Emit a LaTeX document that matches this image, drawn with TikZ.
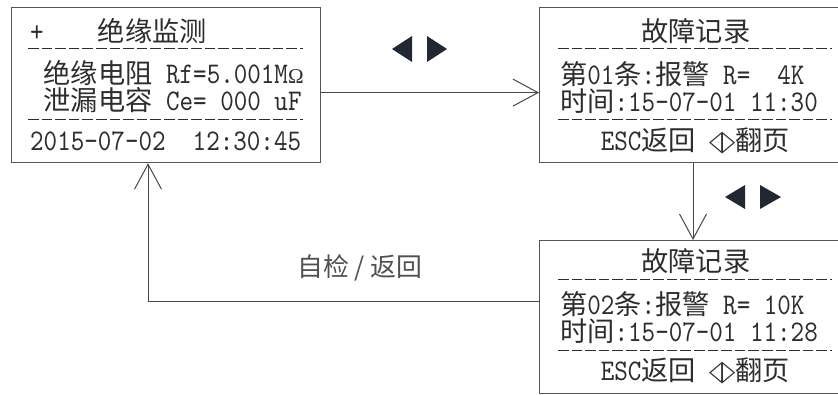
\documentclass[tikz,border=0pt]{standalone}
\usepackage{fontspec}
\newfontfamily\lcd{lmmono10-regular.otf}[FakeStretch=0.86]
\newfontfamily\cjk{Noto Sans CJK SC}[Scale=0.907]
\newfontfamily\sym{DejaVu Sans}[Scale=0.95, FakeStretch=0.6]
\newfontfamily\omg{Liberation Serif}[Scale=0.7]
\usetikzlibrary{arrows.meta}
\definecolor{framegray}{RGB}{85, 85, 85}
\definecolor{lcdtext}{RGB}{45, 45, 45}
\definecolor{linegray}{RGB}{70, 70, 70}
\definecolor{keydark}{RGB}{34, 40, 49}
\definecolor{notegray}{RGB}{80, 80, 80}

\begin{document}
\begin{tikzpicture}[x=1pt, y=-1pt,
  screen/.style={draw=framegray, line width=1.2pt, anchor=north west, inner sep=0pt,
                 minimum width=310pt, minimum height=155pt},
  row/.style={anchor=base west, inner sep=0pt, text=lcdtext, text height=19pt, text depth=4pt,
              font=\fontsize{30}{33}\selectfont\lcd},
  rule/.style={draw=lcdtext, line width=1pt, dash pattern=on 10.6pt off 3pt},
  flow/.style={draw=linegray, line width=1pt, -{Straight Barb[length=25pt, width=27pt]}},
  pad/.style={fill=keydark},
]
\useasboundingbox (0,0) rectangle (838,394);

% Monitor screen
\node[screen, minimum width=309pt] (mon) at (11,7) {};
\node[row] (m0) at (30,41.5) {+~~~~{\cjk 绝缘监测}};
\draw[rule] (28,48) -- (303,48);
\node[row] (m1) at (30,83) {~{\cjk 绝缘电阻}~Rf=5.001M{\omg Ω}};
\node[row] (m2) at (30,110) {~{\cjk 泄漏电容}~Ce=~000~uF};
\draw[rule] (28,119) -- (303,119);
\node[row] (m3) at (30,150) {2015-07-02~~12:30:45};

% Fault record 1
\node[screen] (rec1) at (539,7) {};
\node[row] (ra0) at (560,41.5) {~~~~~~{\cjk 故障记录}};
\draw[rule] (558,48) -- (832,48);
\node[row] (ra1) at (560,84) {{\cjk 第}01{\cjk 条}:{\cjk 报警}~R=~~4K};
\node[row] (ra2) at (560,111) {{\cjk 时间}:15-07-01~11:30};
\draw[rule] (558,119) -- (832,119);
\node[row] (ra3) at (560,150) {~~~ESC{\cjk 返回}~{\sym ◁▷}{\cjk 翻页}};

% Fault record 2
\node[screen, minimum height=152.5pt] (rec2) at (539,240) {};
\node[row] (rb0) at (560,271.5) {~~~~~~{\cjk 故障记录}};
\draw[rule] (558,279) -- (832,279);
\node[row] (rb1) at (560,314) {{\cjk 第}02{\cjk 条}:{\cjk 报警}~R=~10K};
\node[row] (rb2) at (560,341) {{\cjk 时间}:15-07-01~11:28};
\draw[rule] (558,350) -- (832,350);
\node[row] (rb3) at (560,380) {~~~ESC{\cjk 返回}~{\sym ◁▷}{\cjk 翻页}};

% Keys
\fill[pad] (392,49) -- (412,36) -- (412,62) -- cycle;
\fill[pad] (447,49) -- (427,36) -- (427,62) -- cycle;
\fill[pad] (725,197) -- (745,185) -- (745,209) -- cycle;
\fill[pad] (781,197) -- (760,185) -- (760,209) -- cycle;

% Transitions
\draw[flow] ([yshift=-7.5pt]mon.east) -- ([yshift=-7.5pt]mon.east -| rec1.west);
\draw[flow] ([xshift=154pt]rec1.south west) -- ([xshift=154pt]rec2.north west);
\draw[flow] ([yshift=15pt]rec2.west) -| ([xshift=137pt]mon.south west);
\node[text=notegray, font={\fontsize{28.5}{32}\selectfont\cjk}] (back) at (360,268) {自检 / 返回};
\end{tikzpicture}
\end{document}
